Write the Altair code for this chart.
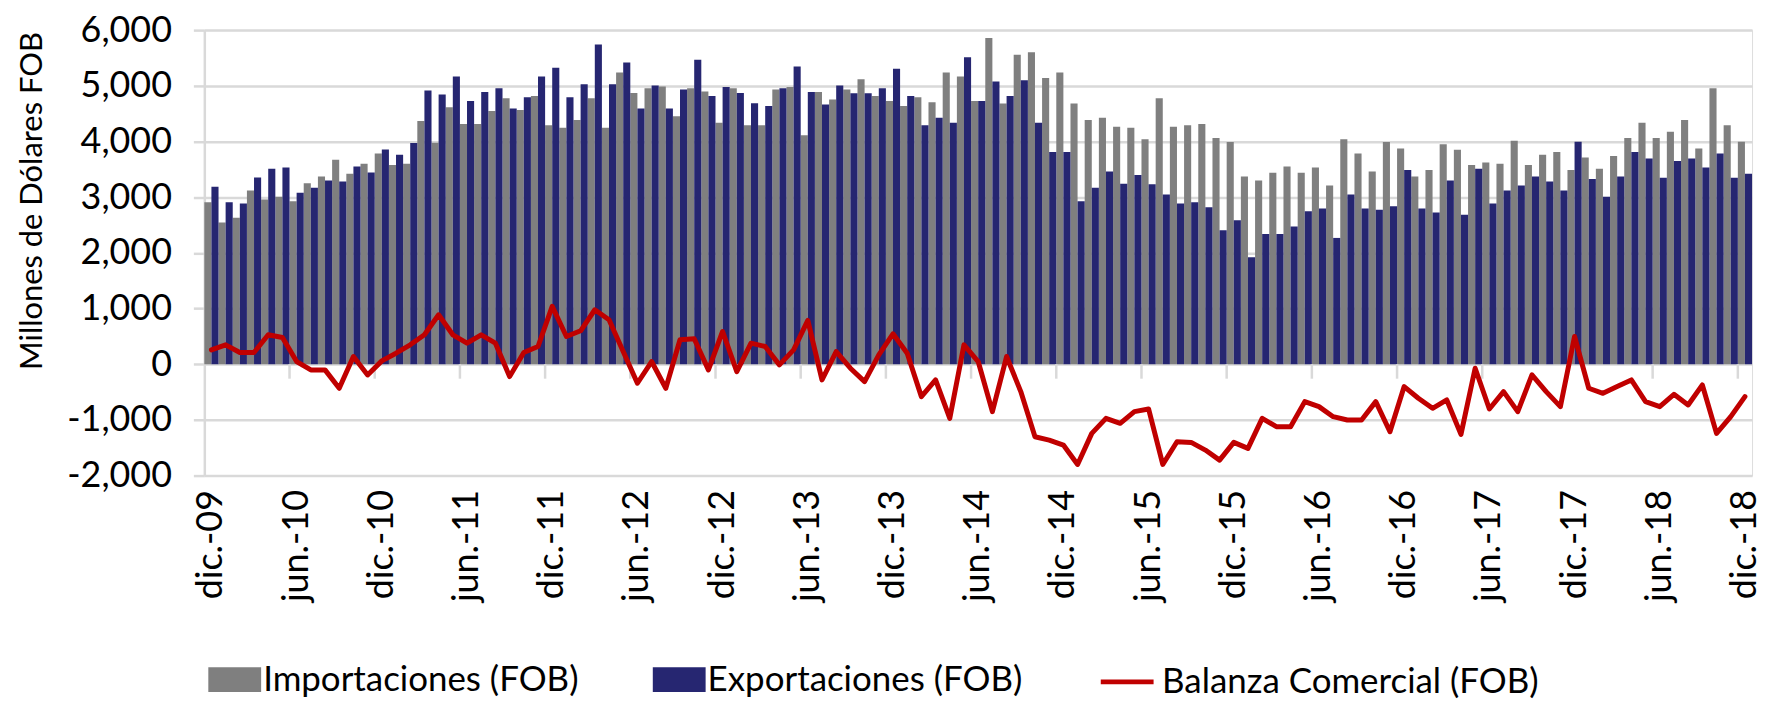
import altair as alt
import pandas as pd

meses_abr = ["ene.", "feb.", "mar.", "abr.", "may.", "jun.", "jul.", "ago.", "sep.", "oct.", "nov.", "dic."]

importaciones = [
    2910, 2544, 2628, 3120, 2958, 3006, 2928, 3252, 3372, 3672, 3420, 3600, 3786,
    3576, 3600, 4368, 3978, 4614, 4314, 4314, 4548, 4776, 4566, 4818, 4290, 4248,
    4386, 4776, 4248, 5238, 4872, 4956, 4986, 4452, 4956, 4896, 4338, 4956, 4290,
    4290, 4932, 4980, 4110, 4890, 4752, 4932, 5118, 4818, 4728, 4638, 4794, 4704,
    5238, 5166, 4728, 5856, 4680, 5556, 5604, 5142, 5238, 4680, 4386, 4428, 4266, 4248,
    4038, 4776, 4266, 4290, 4314, 4062, 3990, 3372, 3300, 3438, 3552, 3438, 3534, 3210,
    4038, 3786, 3462, 3990, 3876, 3372, 3486, 3948, 3852, 3576, 3624, 3600, 4014,
    3576, 3762, 3810, 3486, 3714, 3510, 3738, 4062, 4338, 4062, 4176, 4386, 3876, 4956, 4290, 3996,
]

exportaciones = [
    3186, 2910, 2886, 3354, 3510, 3534, 3078, 3168, 3300, 3282, 3552, 3444, 3858,
    3762, 3972, 4914, 4842, 5166, 4728, 4890, 4956, 4590, 4794, 5166, 5322, 4794,
    5028, 5742, 5028, 5418, 4590, 5004, 4590, 4932, 5466, 4818, 4980, 4872, 4686,
    4638, 4956, 5346, 4890, 4662, 5004, 4866, 4866, 4956, 5304, 4818, 4290, 4428,
    4338, 5514, 4728, 5076, 4818, 5100, 4338, 3810, 3810, 2928, 3168, 3462, 3240, 3396,
    3234, 3048, 2886, 2910, 2820, 2406, 2586, 1920, 2340, 2340, 2472, 2748, 2796, 2268,
    3048, 2796, 2772, 2838, 3486, 2796, 2724, 3300, 2682, 3510, 2886, 3120, 3210,
    3372, 3282, 3120, 3996, 3324, 3006, 3372, 3810, 3696, 3348, 3648, 3696, 3534, 3786, 3348, 3420,
]

balanza = [
    258, 348, 210, 210, 528, 480, 48, -102, -102, -432, 138, -192, 60,
    198, 348, 528, 888, 528, 378, 528, 378, -222, 210, 318, 1038, 498,
    600, 978, 798, 228, -342, 48, -432, 438, 456, -102, 588, -132, 378,
    318, -12, 258, 786, -282, 228, -72, -312, 168, 546, 198, -582, -282,
    -972, 348, 48, -852, 138, -492, -1302, -1362, -1452, -1800, -1242, -972, -1062, -852,
    -804, -1800, -1392, -1404, -1542, -1722, -1404, -1512, -972, -1122, -1122, -672, -762, -942,
    -1002, -1002, -672, -1212, -402, -612, -792, -642, -1260, -72, -804, -492, -852,
    -192, -492, -762, 498, -432, -522, -402, -282, -672, -762, -540, -732, -372, -1242, -942, -582,
]

n = len(importaciones)
meses = [f"{meses_abr[(11 + i) % 12]}-{(2009 + (11 + i) // 12) % 100:02d}" for i in range(n)]
etiquetas = meses[::6]

IMP = "Importaciones (FOB)"
EXP = "Exportaciones (FOB)"
BAL = "Balanza Comercial (FOB)"

bars_df = pd.DataFrame(
    {"mes": meses * 2,
     "serie": [IMP] * n + [EXP] * n,
     "valor": importaciones + exportaciones}
)
line_df = pd.DataFrame({"mes": meses, "balanza": balanza, "serie_l": [BAL] * n})
tick_df = pd.DataFrame({"mes": etiquetas[1:]})

FONT = "Lato"
GRID = "#d9d9d9"

x_scale = alt.Scale(domain=meses, paddingInner=0, paddingOuter=0)
y_scale = alt.Scale(domain=[-2000, 6000], nice=False)

x_axis = alt.Axis(
    values=etiquetas, labelAngle=270, labelAlign="right", labelBaseline="middle",
    labelPadding=14, ticks=False, domain=False, grid=False, title=None,
    labelFontSize=36, labelFont=FONT, labelColor="black", labelOverlap=False,
)
y_axis = alt.Axis(
    values=list(range(-2000, 6001, 1000)),
    labelExpr="replace(format(datum.value, ','), '\u2212', '-')",
    tickSize=11, tickColor=GRID, tickWidth=2.5, labelPadding=22,
    grid=True, gridColor=GRID, gridWidth=2.5,
    domain=True, domainColor=GRID, domainWidth=2.5,
    labelFontSize=36, labelFont=FONT, labelColor="black",
    title="Millones de Dólares FOB", titleFontSize=31, titleFont=FONT,
    titleFontWeight="normal", titleColor="black", titleAngle=270,
    titleX=-172, titleY=171, titleAlign="center", titleBaseline="middle",
)

bars = alt.Chart(bars_df).mark_bar(binSpacing=0).encode(
    x=alt.X("mes:N", scale=x_scale, axis=x_axis, sort=None),
    xOffset=alt.XOffset("serie:N", scale=alt.Scale(domain=[IMP, EXP], paddingInner=0, paddingOuter=0)),
    y=alt.Y("valor:Q", scale=y_scale, axis=y_axis),
    color=alt.Color(
        "serie:N",
        scale=alt.Scale(domain=[IMP, EXP], range=["#7f7f7f", "#262671"]),
        legend=alt.Legend(
            orient="none", legendX=4, legendY=625, direction="horizontal", columns=2,
            title=None, symbolType="M-1,-0.47H1V0.47H-1Z", symbolSize=2809,
            symbolStrokeWidth=0, labelFontSize=35, labelFont=FONT, labelColor="black",
            columnPadding=74, labelOffset=2, labelLimit=600,
        ),
    ),
)

ticks = alt.Chart(tick_df).mark_rule(color=GRID, strokeWidth=2.5).encode(
    x=alt.X("mes:N", scale=x_scale, bandPosition=0, sort=None),
    y=alt.datum(0),
    y2=alt.datum(-260),
)

line = alt.Chart(line_df).mark_line(strokeWidth=5, strokeJoin="round", strokeCap="round").encode(
    x=alt.X("mes:N", scale=x_scale, sort=None),
    y=alt.Y("balanza:Q", scale=y_scale),
    stroke=alt.Stroke(
        "serie_l:N",
        scale=alt.Scale(domain=[BAL], range=["#c00000"]),
        legend=alt.Legend(
            orient="none", legendX=897, legendY=625, title=None,
            symbolType="stroke", symbolSize=2809, symbolStrokeWidth=5,
            labelFontSize=35, labelFont=FONT, labelColor="black", labelOffset=6,
            labelLimit=600,
        ),
    ),
)

chart = (
    alt.layer(bars, ticks, line)
    .properties(
        width=1553, height=447,
        autosize=alt.AutoSizeParams(type="none"),
        padding={"left": 197, "top": 21, "right": 13, "bottom": 223},
        background="white",
    )
    .configure_view(stroke=None)
    .configure(font=FONT)
)

chart.save("out.html", embed_options={"renderer": "svg", "actions": False})
